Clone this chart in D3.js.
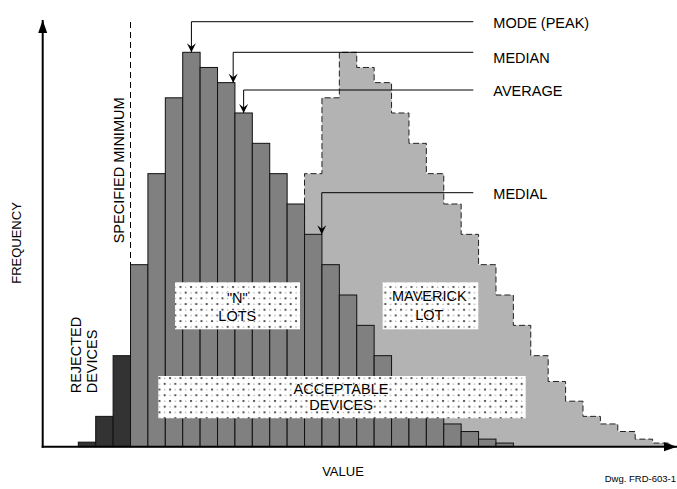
<!DOCTYPE html>
<html>
<head>
<meta charset="utf-8">
<script src="https://cdn.jsdelivr.net/npm/d3@7"></script>
<style>
  body { margin: 0; background: #fff; }
  text { font-family: "Liberation Sans", Arial, sans-serif; fill: #000; }
</style>
</head>
<body>
<div id="chart"></div>
<script>

// frequency of the "N" lots, one value per bin (bin 0 = leftmost bar)
const lotFreq = [0.15, 1, 3, 6, 9, 11.5, 13, 12.5, 12, 11, 10, 9, 8, 7, 6, 5, 4, 3, 2.15, 1.5, 1, 0.75, 0.5, 0.25, 0.12]
// maverick lot, starting at bin maverickStart
const maverickStart = 13
const maverickFreq = [9, 11.5, 13, 12.5, 12, 11, 10, 9, 8, 7, 6, 5, 4, 3, 2.15, 1.5, 1, 0.75, 0.5, 0.25, 0.12]
// bins below the specified minimum are rejected
const specMinBin = 3

// callouts: label, bin the arrow points at, where across the bar
const callouts = [
  { label: "MODE (PEAK)", bin: 6, at: 0.5 },
  { label: "MEDIAN", bin: 8, at: 0.9 },
  { label: "AVERAGE", bin: 9, at: 0.5 },
  { label: "MEDIAL", bin: 13, at: 0.99 },
]
const calloutLineY = [21.7, 52.3, 90, 192.7]

const dimensions = {
  width: 677,
  height: 489,
  originX: 42.7,
  originY: 446.7,
}

const svg = d3.select("#chart")
  .append("svg")
    .attr("width", dimensions.width)
    .attr("height", dimensions.height)

svg.append("rect")
  .attr("width", dimensions.width)
  .attr("height", dimensions.height)
  .attr("fill", "#fff")

const defs = svg.append("defs")

// stipple fill for the label boxes
const pattern = defs.append("pattern")
  .attr("id", "dots")
  .attr("patternUnits", "userSpaceOnUse")
  .attr("width", 10.5)
  .attr("height", 11.4)
pattern.append("rect")
  .attr("width", 10.5).attr("height", 11.4).attr("fill", "#fff")
pattern.append("circle").attr("cx", 2).attr("cy", 2).attr("r", 1.1).attr("fill", "#333")
pattern.append("circle").attr("cx", 7.25).attr("cy", 7.7).attr("r", 1.1).attr("fill", "#333")
pattern.append("circle").attr("cx", 7.25).attr("cy", 2.2).attr("r", 0.7).attr("fill", "#999")
pattern.append("circle").attr("cx", 2).attr("cy", 7.9).attr("r", 0.7).attr("fill", "#999")

// arrowheads
defs.append("marker")
  .attr("id", "pointer")
  .attr("viewBox", "-10 -5 10 10")
  .attr("refX", 0).attr("refY", 0)
  .attr("markerWidth", 10).attr("markerHeight", 10)
  .attr("markerUnits", "userSpaceOnUse")
  .attr("orient", "auto")
  .append("path")
    .attr("d", "M0,0L-9,-4.5L-5.5,0L-9,4.5Z")
    .attr("fill", "#000")

defs.append("marker")
  .attr("id", "axisArrow")
  .attr("viewBox", "-14 -5 14 10")
  .attr("refX", 0).attr("refY", 0)
  .attr("markerWidth", 14).attr("markerHeight", 10)
  .attr("markerUnits", "userSpaceOnUse")
  .attr("orient", "auto")
  .append("path")
    .attr("d", "M0,0L-13,-4.5L-13,4.5Z")
    .attr("fill", "#000")

// scales
const x = d3.scaleLinear()
  .domain([0, 34])
  .range([78.3, 670])

const y = d3.scaleLinear()
  .domain([0, 13])
  .range([dimensions.originY, 52.3])

// maverick lot (behind)
const mavPoints = maverickFreq.map((f, i) => ({ bin: maverickStart + i, f }))
mavPoints.push({ bin: maverickStart + maverickFreq.length, f: maverickFreq[maverickFreq.length - 1] })

const mavArea = d3.area()
  .curve(d3.curveStepAfter)
  .x(d => x(d.bin))
  .y0(y(0))
  .y1(d => y(d.f))

svg.append("path")
  .attr("d", mavArea(mavPoints))
  .attr("fill", "#b3b3b3")

const outline = [{ bin: maverickStart, f: 0 }, ...mavPoints, { bin: maverickStart + maverickFreq.length, f: 0 }]
svg.append("path")
  .attr("d", d3.line().curve(d3.curveStepAfter).x(d => x(d.bin)).y(d => y(d.f))(outline))
  .attr("fill", "none")
  .attr("stroke", "#222")
  .attr("stroke-width", 1)
  .attr("stroke-dasharray", "6,3")

// "N" lots bars
svg.append("g")
  .selectAll("rect")
  .data(lotFreq)
  .join("rect")
    .attr("x", (d, i) => x(i))
    .attr("y", d => y(d))
    .attr("width", x(1) - x(0))
    .attr("height", d => y(0) - y(d))
    .attr("fill", (d, i) => i < specMinBin ? "#333" : "#808080")
    .attr("stroke", "#111")
    .attr("stroke-width", 1)

// specified minimum
svg.append("line")
  .attr("x1", x(specMinBin)).attr("x2", x(specMinBin))
  .attr("y1", 22).attr("y2", y(lotFreq[specMinBin]))
  .attr("stroke", "#000")
  .attr("stroke-dasharray", "6,4")

svg.append("text")
  .attr("transform", `translate(124,243.3) rotate(-90)`)
  .style("font-size", "14.5px")
  .text("SPECIFIED MINIMUM")

// stippled label boxes
const boxes = [
  { x0: 175, x1: 300, y0: 282.3, y1: 329.3, lines: ["\"N\"", "LOTS"], cx: 237.3, cy: [297.7, 315.7] },
  { x0: 382.7, x1: 478.3, y0: 282.3, y1: 329.3, lines: ["MAVERICK", "LOT"], cx: 429.3, cy: [296, 315] },
  { x0: 158.3, x1: 525.7, y0: 376, y1: 418.3, lines: ["ACCEPTABLE", "DEVICES"], cx: 341, cy: [388.3, 404.3] },
]

boxes.forEach(b => {
  svg.append("rect")
    .attr("x", b.x0).attr("y", b.y0)
    .attr("width", b.x1 - b.x0).attr("height", b.y1 - b.y0)
    .attr("fill", "url(#dots)")
  b.lines.forEach((t, i) => {
    svg.append("text")
      .attr("x", b.cx).attr("y", b.cy[i])
      .attr("dy", "0.36em")
      .attr("text-anchor", "middle")
      .style("font-size", "14.5px")
      .style("paint-order", "stroke")
      .style("stroke", "#fff")
      .style("stroke-width", "1.5px")
      .text(t)
  })
})

// rejected devices
;[["REJECTED", 80.7], ["DEVICES", 97.3]].forEach(([t, bx]) => {
  svg.append("text")
    .attr("transform", `translate(${bx},393.3) rotate(-90)`)
    .style("font-size", "14.5px")
    .text(t)
})

// callouts
callouts.forEach((c, i) => {
  const ax = x(c.bin + c.at)
  const ly = calloutLineY[i]
  svg.append("path")
    .attr("d", `M473.3,${ly}H${ax}V${y(lotFreq[c.bin])}`)
    .attr("fill", "none")
    .attr("stroke", "#000")
    .attr("stroke-width", 1)
    .attr("marker-end", "url(#pointer)")
  svg.append("text")
    .attr("x", 493.3)
    .attr("y", ly + [1, 5, 0.7, 1.3][i])
    .attr("dy", "0.36em")
    .style("font-size", "14.5px")
    .text(c.label)
})

// axes
svg.append("line")
  .attr("x1", dimensions.originX).attr("x2", dimensions.originX)
  .attr("y1", dimensions.originY + 1).attr("y2", 20)
  .attr("stroke", "#000").attr("stroke-width", 2)
  .attr("marker-end", "url(#axisArrow)")

svg.append("line")
  .attr("x1", dimensions.originX - 1).attr("x2", 677)
  .attr("y1", dimensions.originY).attr("y2", dimensions.originY)
  .attr("stroke", "#000").attr("stroke-width", 2)
  .attr("marker-end", "url(#axisArrow)")

svg.append("text")
  .attr("transform", `translate(21,243) rotate(-90)`)
  .attr("text-anchor", "middle")
  .style("font-size", "13px")
  .text("FREQUENCY")

svg.append("text")
  .attr("x", 343).attr("y", 476)
  .attr("text-anchor", "middle")
  .style("font-size", "13px")
  .text("VALUE")

svg.append("text")
  .attr("x", 676).attr("y", 482)
  .attr("text-anchor", "end")
  .style("font-size", "9.5px")
  .text("Dwg. FRD-603-1")

</script>
</body>
</html>
